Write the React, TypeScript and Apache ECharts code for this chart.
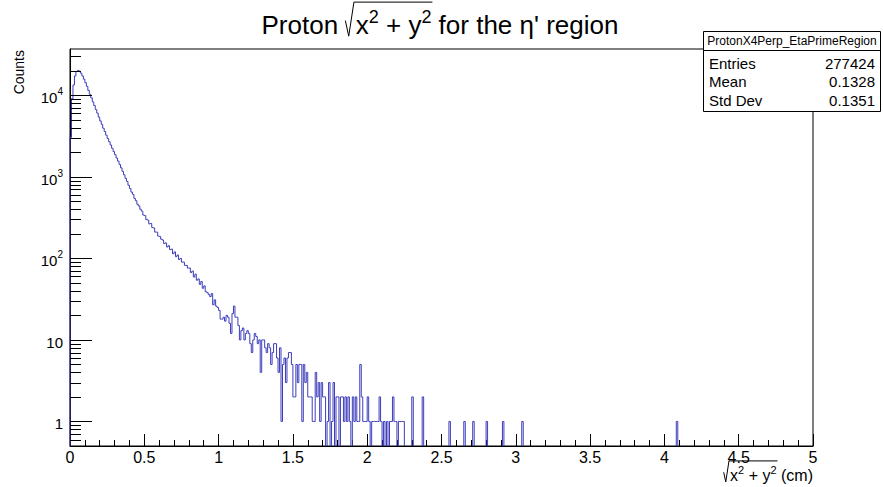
import React, { useEffect, useRef } from "react";
import * as echarts from "echarts";

const WIDTH = 883;
const HEIGHT = 487;
const FONT = '"Liberation Sans", Arial, Helvetica, sans-serif';
const HIST_COLOR = "#3d3dbb";

const BIN_WIDTH = 0.01;
const N_BINS = 500;
const X_MIN = 0;
const X_MAX = 5;
const X_INTERVAL = 0.5;
const Y_MIN = 0.5;
const Y_MAX = 37000;

// bin contents for bins starting at 0.00, 0.01, ..., 1.99
const countsLow: number[] = [
  3050, 9100, 13400, 17300, 19600, 20200, 19800, 18700, 17300, 15800,
  14300, 12900, 11500, 10300, 9300, 8300, 7500, 6700, 6050, 5400,
  4850, 4400, 3950, 3600, 3250, 2950, 2700, 2460, 2240, 2040,
  1870, 1700, 1560, 1420, 1290, 1170, 1060, 960, 880, 790,
  720, 650, 610, 545, 510, 460, 440, 400, 380, 340,
  335, 300, 295, 265, 268, 240, 236, 210, 210, 188,
  186, 172, 168, 152, 155, 138, 143, 128, 130, 114,
  120, 105, 110, 97, 100, 90, 90, 82, 82, 76,
  76, 67, 70, 59, 64, 54, 56, 48, 52, 43,
  46, 39, 38, 36, 34, 37, 27, 31, 26, 25,
  23, 18, 18, 19, 17, 20, 19, 16, 12, 21,
  26, 19, 19, 15, 10, 13, 14, 10, 12, 13,
  12, 9, 7, 10, 12, 11, 9, 10, 4, 10,
  10, 8, 7, 9, 8, 5, 7, 9, 9, 6,
  4, 8, 1, 5, 6, 3, 6, 7, 7, 5,
  2, 2, 5, 3, 5, 5, 1, 5, 3, 4,
  2, 2, 2, 1, 1, 4, 2, 3, 1, 3,
  2, 2, 0, 1, 3, 0, 1, 3, 0, 2,
  2, 0, 2, 2, 1, 2, 1, 2, 1, 0,
  2, 1, 2, 1, 1, 5, 2, 1, 1, 1,
];

// sparse tail: bin index (width 0.01) and its content
const tailBins: number[] = [200, 201, 203, 204, 205, 206, 207, 208, 209, 211, 213, 215, 216, 217, 218, 219, 221, 222, 223, 224, 230, 237, 255, 265, 271, 280, 291, 304, 408];
const tailCounts: number[] = [2, 1, 1, 1, 1, 1, 1, 2, 1, 1, 1, 1, 1, 2, 1, 1, 1, 1, 1, 1, 2, 2, 1, 1, 1, 1, 1, 1, 1];

const xTickLabels: string[] = ["0", "0.5", "1", "1.5", "2", "2.5", "3", "3.5", "4", "4.5", "5"];
const yLabelDecades: number[] = [1, 10, 100, 1000, 10000];
const yLabelTexts: string[] = ["1", "10", "10{s|2}", "10{s|3}", "10{s|4}"];
const yTickDecades: number[] = [0.1, 1, 10, 100, 1000, 10000];
const yTickMultipliers: number[] = [1, 2, 3, 4, 5, 6, 7, 8, 9];

const titlePrefix = "Proton";
const titleSuffix = "for the \u03b7' region";
const xTitleSuffix = "(cm)";
const yTitle = "Counts";
const statsName = "ProtonX4Perp_EtaPrimeRegion";
const statsLabels: string[] = ["Entries", "Mean", "Std Dev"];
const statsValues: string[] = ["277424", "0.1328", "0.1351"];

let measureCtx: CanvasRenderingContext2D | null = null;
function textWidth(t: string, size: number): number {
  if (!measureCtx) measureCtx = document.createElement("canvas").getContext("2d");
  if (!measureCtx) return t.length * size * 0.55;
  measureCtx.font = `${size}px ${FONT}`;
  return measureCtx.measureText(t).width;
}

function txt(t: string, x: number, y: number, size: number, align = "left", extra: any = {}) {
  return {
    type: "text",
    x,
    y,
    z: 100,
    silent: true,
    ...extra,
    style: { text: t, fontSize: size, fontFamily: FONT, fill: "#000", align, verticalAlign: "middle" },
  };
}

function sqrtLabel(prefix: string, suffix: string, fs: number, supFs: number, anchorX: number, align: string, cy: number) {
  const space = textWidth(" ", fs);
  const supDy = fs * 0.31;
  const pieces = [
    { t: "x", s: fs, dy: 0 },
    { t: "2", s: supFs, dy: -supDy },
    { t: " + ", s: fs, dy: 0 },
    { t: "y", s: fs, dy: 0 },
    { t: "2", s: supFs, dy: -supDy },
  ];
  const wPre = prefix ? textWidth(prefix, fs) + space : 0;
  const radW = fs * 0.4;
  const wRad = pieces.reduce((a, p) => a + textWidth(p.t, p.s), 0);
  const wSuf = space + textWidth(suffix, fs);
  const total = wPre + radW + wRad + wSuf;
  let x = align === "center" ? anchorX - total / 2 : anchorX - total;
  const els: any[] = [];
  if (prefix) {
    els.push(txt(prefix, x, cy, fs));
    x += wPre;
  }
  const rx = x;
  els.push({
    type: "polyline",
    z: 100,
    silent: true,
    shape: {
      points: [
        [rx, cy - 0.17 * fs],
        [rx + 0.13 * fs, cy + 0.43 * fs],
        [rx + 0.33 * fs, cy - 0.88 * fs],
        [rx + radW + wRad + 1, cy - 0.88 * fs],
      ],
    },
    style: { stroke: "#000", lineWidth: 1, fill: "none" },
  });
  x += radW;
  for (const p of pieces) {
    els.push(txt(p.t, x, cy + p.dy, p.s));
    x += textWidth(p.t, p.s);
  }
  x += space;
  els.push(txt(suffix, x, cy, fs));
  return els;
}

function buildCounts(): number[] {
  const c: number[] = new Array(N_BINS).fill(0);
  countsLow.forEach((v, i) => (c[i] = v));
  tailBins.forEach((b, i) => (c[b] = tailCounts[i]));
  return c;
}

export default function App() {
  const ref = useRef<HTMLDivElement>(null);

  useEffect(() => {
    if (!ref.current) return;
    const chart = echarts.init(ref.current, undefined, { renderer: "svg" });
    const counts = buildCounts();

    const histData: number[][] = [];
    for (let i = 0; i <= N_BINS; i++) {
      const v = i < N_BINS ? counts[i] : 0;
      const p = i > 0 ? counts[i - 1] : 0;
      if (v > 0 || p > 0) histData.push([i * BIN_WIDTH, (i + 1) * BIN_WIDTH, v, p]);
    }

    const yTickData: number[][] = [];
    yTickDecades.forEach((d) =>
      yTickMultipliers.forEach((m) => {
        const v = d * m;
        if (v >= Y_MIN * 0.999 && v <= Y_MAX) yTickData.push([X_MIN, v, m === 1 ? 1 : 0]);
      })
    );

    const graphics: any[] = [];
    // title
    graphics.push(...sqrtLabel(titlePrefix, titleSuffix, 26, 18, 440, "center", 25));
    // x-axis title
    graphics.push(...sqrtLabel("", xTitleSuffix, 16, 11, 813, "right", 475));
    // y-axis title
    graphics.push(txt(yTitle, 19, 50, 14, "right", { rotation: Math.PI / 2 }));
    // stats box
    graphics.push({
      type: "rect",
      z: 100,
      silent: true,
      shape: { x: 703.5, y: 31.5, width: 177, height: 80 },
      style: { fill: "#fff", stroke: "#000", lineWidth: 1 },
    });
    graphics.push({
      type: "line",
      z: 100,
      silent: true,
      shape: { x1: 703.5, y1: 50.5, x2: 880.5, y2: 50.5 },
      style: { stroke: "#000", lineWidth: 1 },
    });
    graphics.push(txt(statsName, 792, 41, 12, "center"));
    statsLabels.forEach((l, i) => {
      graphics.push(txt(l, 709, 63 + i * 18.5, 15, "left"));
      graphics.push(txt(statsValues[i], 875, 63 + i * 18.5, 15, "right"));
    });

    const option: any = {
      animation: false,
      grid: { left: 70, right: 70, top: 49, bottom: 41, show: true, borderColor: "#000", borderWidth: 1 },
      xAxis: {
        type: "value",
        min: X_MIN,
        max: X_MAX,
        interval: X_INTERVAL,
        axisLine: { show: true, lineStyle: { color: "#000", width: 1 } },
        axisTick: { show: true, inside: true, length: 12, lineStyle: { color: "#000" } },
        minorTick: { show: true, splitNumber: 5, length: 6, lineStyle: { color: "#000" } },
        splitLine: { show: false },
        minorSplitLine: { show: false },
        axisLabel: {
          color: "#000",
          fontSize: 16,
          fontFamily: FONT,
          margin: 3,
          formatter: (v: number) => {
            const l = xTickLabels.find((s) => Math.abs(parseFloat(s) - v) < 1e-9);
            return l ?? "";
          },
        },
      },
      yAxis: {
        type: "log",
        logBase: 10,
        min: Y_MIN,
        max: Y_MAX,
        axisLine: { show: true, lineStyle: { color: "#000", width: 1 } },
        axisTick: { show: false },
        minorTick: { show: false },
        splitLine: { show: false },
        axisLabel: {
          color: "#000",
          fontSize: 15,
          fontFamily: FONT,
          margin: 7,
          lineHeight: 22,
          padding: [5, 0, 0, 0],
          showMinLabel: false,
          showMaxLabel: false,
          formatter: (v: number) => {
            const i = yLabelDecades.findIndex((d) => Math.abs(v / d - 1) < 1e-6);
            return i >= 0 ? yLabelTexts[i] : "";
          },
          rich: {
            s: { fontSize: 10, fontFamily: FONT, color: "#000", lineHeight: 10, verticalAlign: "top" },
          },
        },
      },
      series: [
        {
          type: "custom",
          coordinateSystem: "cartesian2d",
          data: histData,
          encode: { x: [0, 1], y: 2 },
          silent: true,
          z: 3,
          renderItem: (params: any, api: any) => {
            const cs = params.coordSys;
            const bottom = cs.y + cs.height;
            const x0 = api.coord([api.value(0), Y_MIN])[0];
            const x1 = api.coord([api.value(1), Y_MIN])[0];
            const v = api.value(2);
            const p = api.value(3);
            const py = v > 0 ? api.coord([api.value(0), v])[1] : bottom;
            const pp = p > 0 ? api.coord([api.value(0), p])[1] : bottom;
            const pts = v > 0 ? [[x0, pp], [x0, py], [x1, py]] : [[x0, pp], [x0, bottom]];
            return {
              type: "polyline",
              shape: { points: pts },
              style: { stroke: HIST_COLOR, lineWidth: 1, fill: "none" },
            };
          },
        },
        {
          type: "custom",
          coordinateSystem: "cartesian2d",
          data: yTickData,
          encode: { x: 0, y: 1 },
          silent: true,
          z: 4,
          renderItem: (params: any, api: any) => {
            const cs = params.coordSys;
            const y = Math.round(api.coord([X_MIN, api.value(1)])[1]) + 0.5;
            const len = api.value(2) === 1 ? 22 : 11;
            return {
              type: "line",
              shape: { x1: cs.x, y1: y, x2: cs.x + len, y2: y },
              style: { stroke: "#000", lineWidth: 1 },
            };
          },
        },
      ],
      graphic: { elements: graphics },
    };

    chart.setOption(option);
    return () => chart.dispose();
  }, []);

  return (
    <div
      ref={ref}
      style={{ position: "fixed", left: 0, top: 0, width: WIDTH, height: HEIGHT, background: "#fff" }}
    />
  );
}
